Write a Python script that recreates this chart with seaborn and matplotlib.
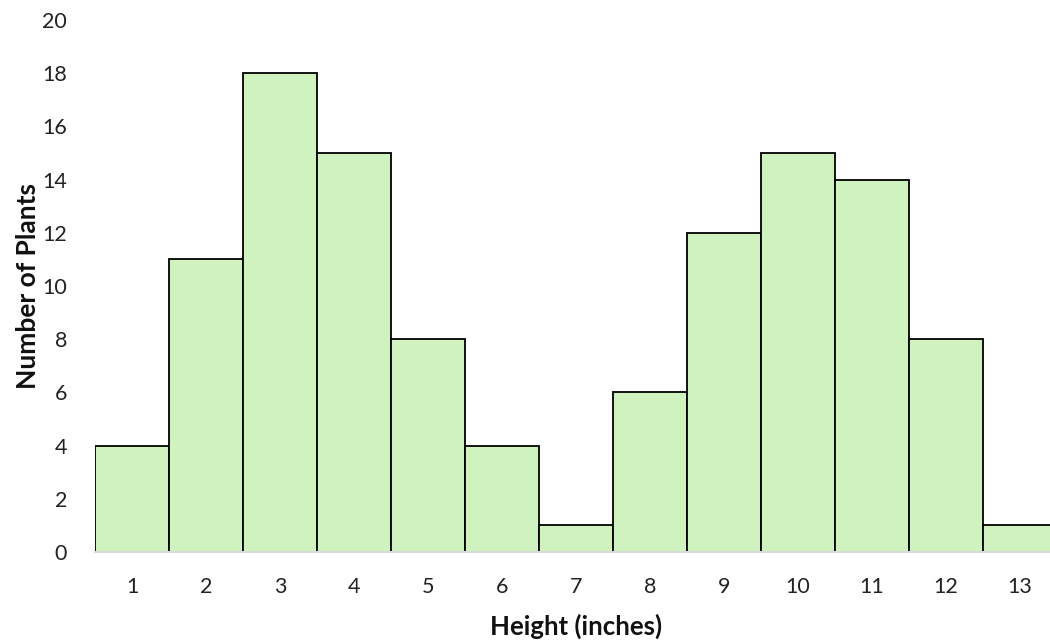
import matplotlib
matplotlib.use("Agg")
import matplotlib.pyplot as plt
import seaborn as sns
import pandas as pd

heights = [1, 2, 3, 4, 5, 6, 7, 8, 9, 10, 11, 12, 13]
counts = [4, 11, 18, 15, 8, 4, 1, 6, 12, 15, 14, 8, 1]
y_ticks = [0, 2, 4, 6, 8, 10, 12, 14, 16, 18, 20]

sns.set_theme(style="white")
plt.rcParams["font.family"] = ["Lato", "DejaVu Sans"]

df = pd.DataFrame({"height": [str(h) for h in heights], "count": counts})

fig = plt.figure(figsize=(10.5, 6.43), dpi=100)
ax = fig.add_axes([0.0905, 0.1415, 0.916, 0.8274])

sns.barplot(data=df, x="height", y="count", width=1.0, color="#CFF2BE",
            saturation=1, edgecolor="black", linewidth=1.3, ax=ax)

ax.set_xlim(-0.5, len(heights) - 0.5)
ax.set_ylim(0, 20)
ax.set_yticks(y_ticks)
ax.tick_params(axis="both", labelsize=15.5, colors="#222222", length=0)
ax.tick_params(axis="x", pad=18)
ax.tick_params(axis="y", pad=20)

for side in ["top", "right", "left"]:
    ax.spines[side].set_visible(False)
ax.spines["bottom"].set_color("#D9D9D9")
ax.spines["bottom"].set_linewidth(1.5)

ax.set_xlabel("Height (inches)", fontsize=18.5, fontweight="bold", labelpad=12, color="#111111")
ax.set_ylabel("Number of Plants", fontsize=19, fontweight="bold", labelpad=2, color="#111111")

fig.savefig("out.png", dpi=100)
